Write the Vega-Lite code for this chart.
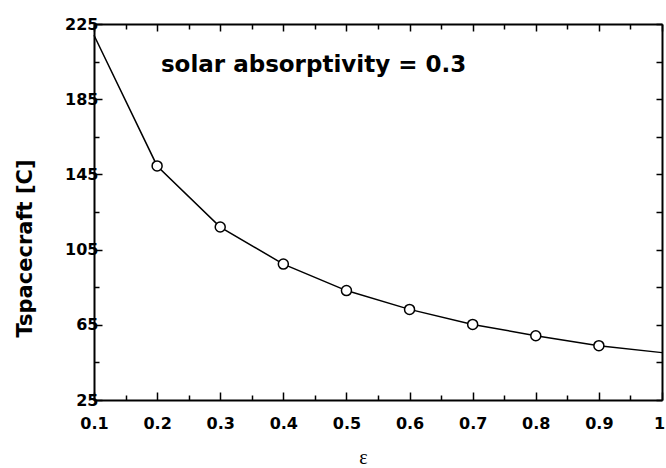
{
  "$schema": "https://vega.github.io/schema/vega-lite/v6.json",
  "width": 568,
  "height": 376,
  "autosize": {"type": "none"},
  "padding": {"left": 94, "top": 24, "right": 4, "bottom": 68},
  "background": "white",
  "config": {
    "view": {"stroke": null},
    "axis": {
      "domainColor": "black",
      "domainWidth": 2,
      "tickColor": "black",
      "tickWidth": 1.5,
      "grid": false,
      "labelFont": "DejaVu Sans",
      "labelFontWeight": "bold",
      "labelFontSize": 16,
      "labelColor": "black",
      "labelOverlap": false,
      "labelFlush": false,
      "labelBound": false
    }
  },
  "data": {
    "values": [
      {"eps": 0.1, "T": 219},
      {"eps": 0.2, "T": 149.5},
      {"eps": 0.3, "T": 117},
      {"eps": 0.4, "T": 97.3},
      {"eps": 0.5, "T": 83.2},
      {"eps": 0.6, "T": 73.2},
      {"eps": 0.7, "T": 65.2},
      {"eps": 0.8, "T": 59.2},
      {"eps": 0.9, "T": 53.9},
      {"eps": 1.0, "T": 50.2}
    ]
  },
  "layer": [
    {
      "mark": {"type": "line", "color": "black", "strokeWidth": 1.5},
      "encoding": {
        "x": {
          "field": "eps", "type": "quantitative",
          "scale": {"domain": [0.1, 1], "nice": false, "zero": false},
          "axis": {
            "orient": "bottom",
            "values": [0.1, 0.15, 0.2, 0.25, 0.3, 0.35, 0.4, 0.45, 0.5, 0.55, 0.6, 0.65, 0.7, 0.75, 0.8, 0.85, 0.9, 0.95, 1],
            "format": "~g",
            "labelExpr": "abs(datum.value*10 - round(datum.value*10)) < 0.001 ? datum.label : ''",
            "tickSize": {"condition": {"test": "abs(datum.value*10 - round(datum.value*10)) < 0.001", "value": -8}, "value": -5},
            "labelPadding": 23,
            "labelOffset": {"condition": {"test": "datum.value == 1", "value": -3}, "value": 0},
            "title": "ε",
            "titleFont": "Liberation Serif",
            "titleFontSize": 20,
            "titleFontWeight": "normal",
            "titleX": 269,
            "titleY": 63,
            "titleBaseline": "alphabetic",
            "titleAlign": "center"
          }
        },
        "y": {
          "field": "T", "type": "quantitative",
          "scale": {"domain": [25, 225], "nice": false, "zero": false},
          "axis": {
            "orient": "left",
            "values": [25, 45, 65, 85, 105, 125, 145, 165, 185, 205, 225],
            "labelExpr": "(datum.value - 25) % 40 == 0 ? datum.label : ''",
            "tickSize": {"condition": {"test": "(datum.value - 25) % 40 == 0", "value": -8}, "value": -5},
            "labelPadding": 4,
            "title": "Tspacecraft  [C]",
            "titleFont": "DejaVu Sans",
            "titleFontSize": 21,
            "titleFontWeight": "bold",
            "titleAngle": -90,
            "titleX": -63,
            "titleY": 224,
            "titleBaseline": "alphabetic",
            "titleAlign": "center"
          }
        }
      }
    },
    {
      "transform": [{"filter": "datum.eps > 0.15 && datum.eps < 0.95"}],
      "mark": {"type": "point", "shape": "circle", "filled": true, "fill": "white", "stroke": "black", "strokeWidth": 1.5, "size": 100, "opacity": 1},
      "encoding": {
        "x": {
          "field": "eps", "type": "quantitative",
          "axis": {
            "orient": "top",
            "values": [0.1, 0.15, 0.2, 0.25, 0.3, 0.35, 0.4, 0.45, 0.5, 0.55, 0.6, 0.65, 0.7, 0.75, 0.8, 0.85, 0.9, 0.95, 1],
            "labels": false,
            "title": null,
            "tickSize": {"condition": {"test": "abs(datum.value*10 - round(datum.value*10)) < 0.001", "value": -7}, "value": -5}
          }
        },
        "y": {
          "field": "T", "type": "quantitative",
          "axis": {
            "orient": "right",
            "values": [25, 45, 65, 85, 105, 125, 145, 165, 185, 205, 225],
            "labels": false,
            "title": null,
            "tickSize": -6
          }
        }
      }
    },
    {
      "data": {"values": [{"label": "solar absorptivity = 0.3"}]},
      "mark": {"type": "text", "font": "DejaVu Sans", "fontWeight": "bold", "fontSize": 23, "align": "left", "baseline": "alphabetic", "color": "black"},
      "encoding": {
        "x": {"datum": 0.206, "type": "quantitative", "axis": null},
        "y": {"datum": 199.5, "type": "quantitative", "axis": null},
        "text": {"field": "label"}
      }
    }
  ],
  "resolve": {"axis": {"x": "independent", "y": "independent"}}
}
